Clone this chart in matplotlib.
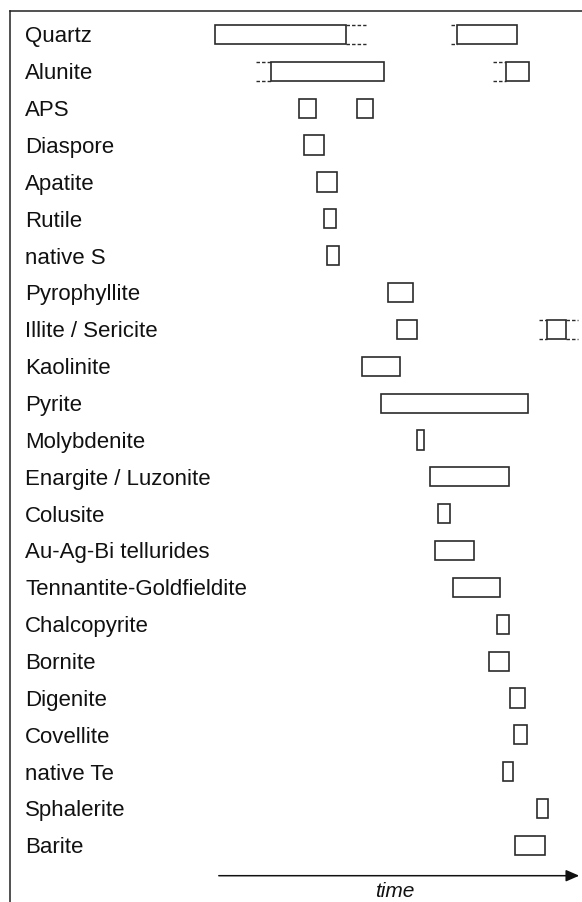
import matplotlib
matplotlib.use("Agg")
import matplotlib.pyplot as plt
from matplotlib.patches import FancyArrowPatch
from matplotlib.lines import Line2D

minerals = ["Quartz", "Alunite", "APS", "Diaspore", "Apatite", "Rutile", "native S",
            "Pyrophyllite", "Illite / Sericite", "Kaolinite", "Pyrite", "Molybdenite",
            "Enargite / Luzonite", "Colusite", "Au-Ag-Bi tellurides",
            "Tennantite-Goldfieldite", "Chalcopyrite", "Bornite", "Digenite",
            "Covellite", "native Te", "Sphalerite", "Barite"]

# solid intervals (time, arbitrary units)
bar_rows   = [0, 0, 1, 1, 2, 2, 3, 4, 5, 6, 7, 8, 8, 9, 10, 11, 12, 13, 14, 15, 16, 17, 18, 19, 20, 21, 22]
bar_starts = [215, 457.3, 270.7, 506, 299.3, 357.3, 304, 317.3, 324.3, 326.7, 388.3, 396.7, 546.7,
              361.7, 380.7, 417.3, 430, 437.7, 434.7, 453.3, 496.7, 489.3, 510, 514, 502.7, 536.7, 515]
bar_ends   = [345.7, 517.3, 384.3, 529.3, 315.7, 373.3, 323.7, 337, 335.7, 339, 412.7, 416.7, 565.7,
              400.3, 528.3, 423.7, 508.7, 450, 473.7, 500.3, 508.7, 508.7, 525, 526.7, 512.7, 547.7, 545.3]

# uncertain (dashed) extensions
dash_rows   = [0, 0, 1, 1, 8, 8]
dash_starts = [345.7, 450.7, 256, 493, 539.3, 565.7]
dash_ends   = [365.7, 457.3, 270.7, 506, 546.7, 577.7]

W, H = 582, 902
fig = plt.figure(figsize=(W / 100, H / 100), dpi=100)
ax = fig.add_axes([0, 0, 1, 1])
row0, step = 34.5, 36.86
ax.set_xlim(0, W)
ax.set_ylim((H - row0) / step, -row0 / step)
ax.axis("off")

bh = 0.52
edge = "#2b2b2b"
ax.barh(bar_rows, [e - s for s, e in zip(bar_starts, bar_ends)], left=bar_starts,
        height=bh, color="white", edgecolor=edge, linewidth=1.2, zorder=3)

for r, s, e in zip(dash_rows, dash_starts, dash_ends):
    for dy in (-bh / 2, bh / 2):
        ax.plot([s, e], [r + dy, r + dy], color=edge, linewidth=1.0,
                linestyle=(0, (2.5, 1.5)), zorder=2)

for i, name in enumerate(minerals):
    ax.text(25, i + 0.215, name, fontsize=16,
            family="Liberation Sans", va="baseline", ha="left", color="#111111")

# frame (left and top)
fig.add_artist(Line2D([10 / W, 10 / W], [0, 1 - 10.5 / H], transform=fig.transFigure,
                      color="#222222", linewidth=1.1))
fig.add_artist(Line2D([10 / W, 1], [1 - 10.5 / H, 1 - 10.5 / H], transform=fig.transFigure,
                      color="#222222", linewidth=1.1))

# time arrow
arr = FancyArrowPatch((216 / W, 1 - 875.7 / H), (1.0, 1 - 875.7 / H), transform=fig.transFigure,
                      arrowstyle="-|>,head_length=8,head_width=3.5", mutation_scale=1,
                      color="#111111", linewidth=1.1)
fig.add_artist(arr)
fig.text(395 / W, 1 - 891.5 / H, "time", fontsize=15, style="italic", family="Liberation Sans",
         ha="center", va="center", color="#111111")

fig.savefig("out.png", dpi=100, facecolor="white")
